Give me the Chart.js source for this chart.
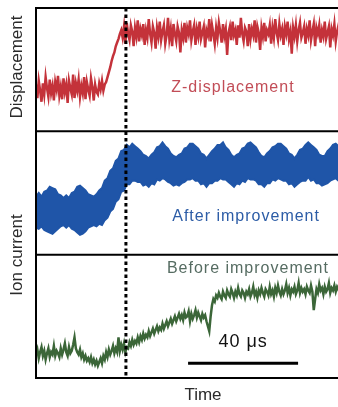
<!DOCTYPE html>
<html>
<head>
<meta charset="utf-8">
<script src="https://cdn.jsdelivr.net/npm/chart.js@4.4.0/dist/chart.umd.min.js"></script>
<style>
  html, body { margin: 0; padding: 0; background: #fff; overflow: hidden; }
  .chart-container { position: relative; width: 346px; height: 407px; }
</style>
</head>
<body>
<div class="chart-container"><canvas id="signalChart"></canvas></div>
<script>
// sample spacing in microseconds
const fineStep = 0.5;   // displacement + "before" trace
const bandStep = 1;     // envelope of the "after" band

// Z-displacement trace (arbitrary units, 0-100), one value per 0.5 us
const displacement = [
  38, 27, 41, 33, 24, 39, 30, 44, 35, 28, 42, 31, 37, 25, 40,
  34, 45, 29, 36, 26, 43, 32, 38, 23, 41, 35, 30, 46, 27, 39,
  33, 42, 28, 37, 31, 44, 26, 40, 34, 29, 43, 36, 25, 38, 32,
  30, 39, 34, 41, 33, 38, 40, 44, 48, 52, 57, 61, 64, 69, 72,
  75, 79, 82, 76, 85, 71, 88, 79, 74, 86, 81, 69, 84, 77, 90,
  73, 83, 78, 87, 70, 82, 76, 91, 79, 72, 85, 80, 67, 84, 77,
  89, 74, 81, 86, 71, 78, 92, 75, 83, 69, 87, 79, 73, 85, 80,
  64, 82, 76, 88, 72, 84, 79, 90, 74, 81, 86, 70, 83, 77, 89,
  75, 80, 85, 68, 82, 78, 91, 73, 86, 79, 71, 84, 76, 88, 81,
  72, 87, 77, 83, 62, 80, 85, 74, 89, 78, 82, 70, 86, 76, 92,
  79, 73, 84, 81, 69, 87, 75, 83, 78, 90, 72, 85, 80, 66, 84,
  77, 88, 73, 82, 79, 86, 71, 84, 76, 91, 80, 74, 87, 78, 83,
  70, 85, 79, 89, 75, 81, 63, 84, 77, 86, 73, 82, 88, 76, 80,
  85, 71, 83, 78, 90, 74, 81, 87, 69, 84, 79, 86, 72, 82, 77,
  89, 75, 80, 85, 68, 83, 78, 87, 73, 81, 86, 76, 84, 79, 82
];

// ion current after improvement: upper / lower edge of the noise band, one value per 1 us
const ionAfterUpper = [
  47, 50, 47, 51, 52, 55, 54, 53, 49, 48, 46, 48, 46, 50, 51, 55, 56, 54, 52, 49,
  48, 47, 49,
  52, 54, 60, 62, 68, 70, 76, 78, 84, 85, 89,
  87, 90, 88, 86, 84, 81, 80, 78, 81, 83, 87, 88, 91, 88, 86, 82, 80, 79, 81, 82,
  86, 87, 90, 90, 88, 86, 82, 81, 78, 81, 84, 86, 89, 89, 91, 87, 85, 81, 79, 81,
  82, 86, 87, 90, 91, 89, 87, 83, 80, 79, 82, 84, 87, 88, 90, 90, 88, 86, 82, 81,
  78, 81, 85, 86, 89, 91, 89, 87, 85, 81, 80, 80, 84, 86, 89, 90, 88, 86, 83
];
const ionAfterLower = [
  22, 21, 23, 20, 19, 18, 17, 19, 21, 23, 24, 22, 24, 21, 20, 18, 16, 17, 19, 22,
  23, 24, 23,
  25, 24, 28, 30, 35, 37, 43, 45, 51, 52, 57, 57, 60,
  60, 59, 59, 56, 57, 55, 58, 57, 61, 60, 62, 61, 59, 58, 56, 57, 56, 58, 59, 61,
  61, 62, 60, 60, 57, 58, 55, 58, 58, 60, 60, 62, 61, 61, 59, 57, 55, 58, 57, 60,
  59, 62, 61, 61, 60, 57, 57, 55, 58, 58, 61, 60, 62, 61, 60, 60, 57, 58, 55, 57,
  59, 60, 60, 63, 60, 61, 58, 58, 56, 57, 58, 60, 61, 62, 60, 60, 58
];

// ion current before improvement, one value per 0.5 us
const ionBefore = [
  19, 23, 16, 21, 25, 18, 22, 15, 20, 24, 17, 21, 19, 26, 18,
  22, 20, 17, 24, 19, 23, 28, 21, 18, 25, 20, 22, 27, 33, 24,
  21, 19, 23, 17, 20, 15, 18, 14, 16, 13, 17, 12, 15, 11, 14,
  10, 13, 16, 12, 18, 15, 21, 17, 23, 19, 22, 26, 20, 24, 21,
  33, 22, 27, 23, 28, 21, 25, 24, 29, 26, 31, 27, 30, 28, 33,
  29, 34, 31, 36, 32, 35, 33, 38, 34, 37, 40, 36, 39, 42, 38,
  41, 39, 44, 40, 43, 46, 42, 45, 48, 44, 47, 50, 46, 49, 52,
  48, 51, 47, 53, 49, 50, 54, 46, 52, 48, 51, 55, 49, 53, 50,
  47, 52, 49, 51, 46, 42, 38, 50, 59, 64, 62, 67, 65, 69, 66,
  64, 70, 67, 65, 71, 68, 66, 72, 69, 65, 70, 67, 73, 68, 66,
  71, 69, 65, 70, 68, 72, 66, 69, 74, 67, 70, 65, 71, 68, 73,
  69, 66, 72, 70, 67, 74, 68, 71, 66, 73, 69, 75, 70, 67, 72,
  68, 71, 76, 69, 73, 67, 72, 70, 74, 68, 71, 77, 69, 73, 70,
  72, 68, 74, 71, 69, 75, 70, 55, 64, 72, 69, 76, 71, 73, 68,
  74, 70, 72, 77, 69, 73, 71, 75, 70, 74, 72, 68, 73, 71, 72
];

const triggerTime = 32.7;
const scaleBarTime = [55.3, 95.3];
const scaleBarLevel = [12, 12];
const scaleBarLabel = "40 μs";
const panelLabels = ["Z-displacement", "After improvement", "Before improvement"];
const axisTitles = ["Displacement", "Ion current", "Time"];

function toPoints(values, step) {
  return values.map((v, i) => ({ x: i * step, y: v }));
}

const framePlugin = {
  id: "framePlugin",
  afterDatasetsDraw(chart) {
    const { ctx, chartArea, scales } = chart;
    const xs = scales.x;
    const top = scales.yDisp, mid = scales.yAfter, bot = scales.yBefore;
    ctx.save();

    // dotted trigger line
    const tx = xs.getPixelForValue(triggerTime);
    ctx.strokeStyle = "#000";
    ctx.lineWidth = 3;
    ctx.setLineDash([3.5, 3]);
    ctx.beginPath();
    ctx.moveTo(tx, chartArea.top);
    ctx.lineTo(tx, chartArea.bottom);
    ctx.stroke();
    ctx.setLineDash([]);

    // frame and panel dividers
    ctx.lineWidth = 2;
    ctx.strokeRect(chartArea.left, chartArea.top, chartArea.right - chartArea.left, chartArea.bottom - chartArea.top);
    [top.bottom, mid.bottom].forEach((y) => {
      ctx.beginPath();
      ctx.moveTo(chartArea.left, y);
      ctx.lineTo(chartArea.right, y);
      ctx.stroke();
    });

    // panel labels
    ctx.textBaseline = "middle";
    ctx.font = "16px 'Liberation Sans', Arial, sans-serif";
    ctx.letterSpacing = "1px";
    ctx.textAlign = "center";
    ctx.fillStyle = "#c24d57";
    ctx.fillText(panelLabels[0], xs.getPixelForValue(71.6), top.getPixelForValue(35.5));
    ctx.fillStyle = "#2c5ca6";
    ctx.fillText(panelLabels[1], xs.getPixelForValue(76.4), mid.getPixelForValue(31));
    ctx.textAlign = "left";
    ctx.fillStyle = "#566c62";
    ctx.fillText(panelLabels[2], xs.getPixelForValue(47.6), bot.getPixelForValue(88.7));

    // scale bar label
    ctx.textAlign = "center";
    ctx.fillStyle = "#111";
    ctx.font = "18px 'Liberation Sans', Arial, sans-serif";
    ctx.fillText(scaleBarLabel, xs.getPixelForValue((scaleBarTime[0] + scaleBarTime[1]) / 2), bot.getPixelForValue(29));

    // axis titles
    ctx.letterSpacing = "0px";
    ctx.font = "17px 'Liberation Sans', Arial, sans-serif";
    ctx.fillStyle = "#2a2a2a";
    ctx.fillText(axisTitles[2], 203, 395);
    [[axisTitles[0], 67], [axisTitles[1], 255]].forEach(([t, y]) => {
      ctx.save();
      ctx.translate(17, y);
      ctx.rotate(-Math.PI / 2);
      ctx.fillText(t, 0, 0);
      ctx.restore();
    });
    ctx.restore();
  },
};

const hiddenY = (stackWeight) => ({
  type: "linear",
  display: false,
  stack: "panels",
  stackWeight,
  min: 0,
  max: 100,
});

new Chart(document.getElementById("signalChart").getContext("2d"), {
  type: "line",
  data: {
    datasets: [
      {
        label: "Z-displacement",
        data: toPoints(displacement, fineStep),
        yAxisID: "yDisp",
        borderColor: "#c4323a",
        borderWidth: 2.5,
      },
      {
        label: "After improvement (upper)",
        data: toPoints(ionAfterUpper, bandStep),
        yAxisID: "yAfter",
        borderColor: "#1f55a8",
        borderWidth: 2,
      },
      {
        label: "After improvement (lower)",
        data: toPoints(ionAfterLower, bandStep),
        yAxisID: "yAfter",
        borderColor: "#1f55a8",
        backgroundColor: "#1f55a8",
        borderWidth: 2,
        fill: "-1",
      },
      {
        label: "Before improvement",
        data: toPoints(ionBefore, fineStep),
        yAxisID: "yBefore",
        borderColor: "#3b6638",
        borderWidth: 2.5,
      },
      {
        label: "40 us",
        data: scaleBarTime.map((t, i) => ({ x: t, y: scaleBarLevel[i] })),
        yAxisID: "yBefore",
        borderColor: "#000",
        borderWidth: 3,
      },
    ],
  },
  options: {
    responsive: true,
    maintainAspectRatio: false,
    animation: false,
    events: [],
    layout: { padding: { left: 36, top: 8, right: 2, bottom: 29 } },
    elements: { point: { radius: 0 }, line: { tension: 0 } },
    plugins: { legend: { display: false }, tooltip: { enabled: false } },
    scales: {
      x: { type: "linear", display: false, min: 0, max: 112 },
      yBefore: hiddenY(1),
      yAfter: hiddenY(1),
      yDisp: hiddenY(1),
    },
  },
  plugins: [framePlugin],
});
</script>
</body>
</html>
